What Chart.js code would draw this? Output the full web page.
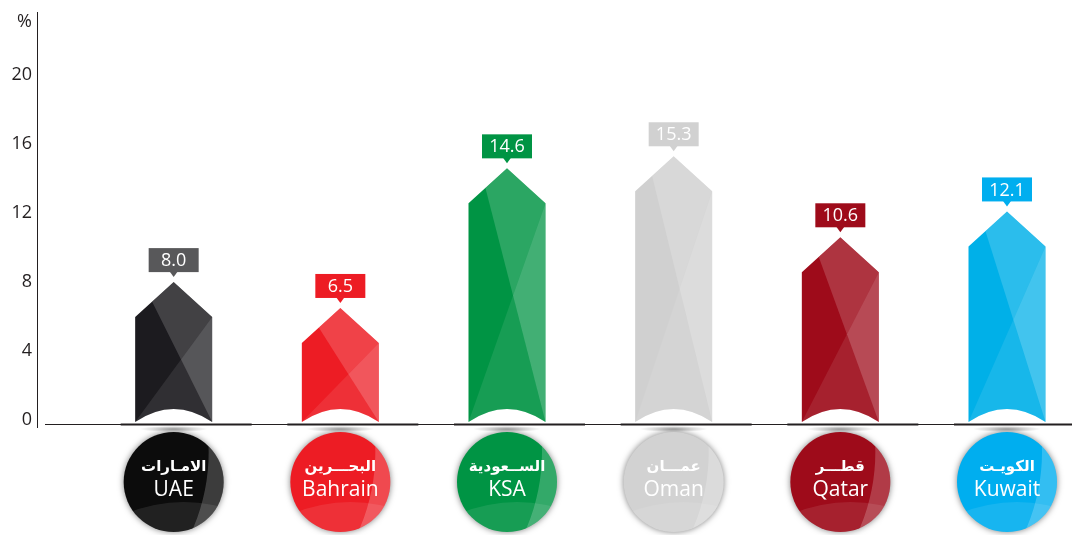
<!DOCTYPE html>
<html>
<head>
<meta charset="utf-8">
<script src="https://cdn.jsdelivr.net/npm/chart.js@4.4.1/dist/chart.umd.min.js"></script>
<style>
  html, body { margin: 0; padding: 0; background: #fff; }
  #chart { display: block; }
</style>
</head>
<body>
<canvas id="chart" width="1072" height="535"></canvas>
<script>
const countries = ["UAE", "Bahrain", "KSA", "Oman", "Qatar", "Kuwait"];
const countriesAr = ["الامـارات", "البحـــرين", "الســعودية", "عمـــان", "قطـــر", "الكويـت"];
const values = [8.0, 6.5, 14.6, 15.3, 10.6, 12.1];
const yTicks = [0, 4, 8, 12, 16, 20];
const yUnit = "%";

// styles
const barColors = ["#1c1b1f", "#ed1c24", "#009444", "#d0d0d0", "#9e0b1a", "#00b0e8"];
const boxColors = ["#58585a", "#ed1c24", "#009444", "#d1d1d1", "#9e0b1a", "#00aeef"];
const badgeColors = ["#0c0c0c", "#ed1c24", "#009444", "#d2d2d2", "#9e0b1a", "#00aeef"];

function cross(p1, p2, p3, p4) {
  const d = (p1.x - p2.x) * (p3.y - p4.y) - (p1.y - p2.y) * (p3.x - p4.x);
  const a = p1.x * p2.y - p1.y * p2.x;
  const b = p3.x * p4.y - p3.y * p4.x;
  return {
    x: (a * (p3.x - p4.x) - (p1.x - p2.x) * b) / d,
    y: (a * (p3.y - p4.y) - (p1.y - p2.y) * b) / d
  };
}

function poly(ctx, pts, fill) {
  ctx.beginPath();
  ctx.moveTo(pts[0].x, pts[0].y);
  pts.slice(1).forEach(p => ctx.lineTo(p.x, p.y));
  ctx.closePath();
  ctx.fillStyle = fill;
  ctx.fill();
}

function drawPencil(ctx, bar, i) {
  const cx = bar.x, w = bar.width;
  const L = cx - w / 2, R = cx + w / 2;
  const T = bar.y, S = T + 35, B = bar.base + 2;

  const tip = { x: cx, y: T };
  const sl = { x: L, y: S }, sr = { x: R, y: S };
  const bl = { x: L, y: B }, br = { x: R, y: B };
  const A = { x: L + 0.22 * w, y: S - 0.44 * 35 };
  const X = cross(A, br, sr, bl);

  ctx.save();
  ctx.beginPath();
  ctx.moveTo(sl.x, sl.y);
  ctx.lineTo(tip.x, tip.y);
  ctx.lineTo(sr.x, sr.y);
  ctx.lineTo(br.x, br.y);
  ctx.quadraticCurveTo(cx, B - 26, bl.x, bl.y);
  ctx.closePath();
  ctx.fillStyle = barColors[i];
  ctx.fill();
  ctx.clip();
  poly(ctx, [A, tip, sr, X], "rgba(255,255,255,0.17)");
  poly(ctx, [sr, br, X], "rgba(255,255,255,0.26)");
  poly(ctx, [X, br, bl], "rgba(255,255,255,0.09)");
  ctx.restore();

  // value box
  ctx.save();
  ctx.fillStyle = boxColors[i];
  ctx.fillRect(cx - 25, T - 34, 50, 24);
  ctx.beginPath();
  ctx.moveTo(cx - 4, T - 10.5);
  ctx.lineTo(cx + 4, T - 10.5);
  ctx.lineTo(cx, T - 5);
  ctx.closePath();
  ctx.fill();
  ctx.fillStyle = "#ffffff";
  ctx.font = "18px 'Open Sans'";
  ctx.textAlign = "center";
  ctx.textBaseline = "middle";
  ctx.fillText(values[i].toFixed(1), cx, T - 21);
  ctx.restore();
}

function drawBadge(ctx, cx, cy, r, i) {
  ctx.save();
  ctx.shadowColor = "rgba(0,0,0,0.5)";
  ctx.shadowBlur = 6;
  ctx.beginPath();
  ctx.arc(cx, cy, r, 0, Math.PI * 2);
  ctx.fillStyle = badgeColors[i];
  ctx.fill();
  ctx.restore();

  ctx.save();
  ctx.beginPath();
  ctx.arc(cx, cy, r, 0, Math.PI * 2);
  ctx.clip();
  ctx.beginPath();
  ctx.arc(cx + 10, cy + 170, 150, 0, Math.PI * 2);
  ctx.fillStyle = "rgba(255,255,255,0.09)";
  ctx.fill();
  ctx.beginPath();
  ctx.rect(cx - r - 5, cy - r - 5, 2 * r + 10, 2 * r + 10);
  ctx.arc(cx - 160, cy - 30, 195, 0, Math.PI * 2);
  ctx.fillStyle = "rgba(255,255,255,0.2)";
  ctx.fill("evenodd");
  ctx.restore();

  ctx.save();
  ctx.fillStyle = "#ffffff";
  ctx.textAlign = "center";
  ctx.textBaseline = "middle";
  ctx.font = "bold 15px 'DejaVu Sans'";
  ctx.fillText(countriesAr[i], cx, cy - 15);
  ctx.font = "21px 'Open Sans'";
  ctx.fillText(countries[i], cx, cy + 8);
  ctx.restore();
}

const pencilPlugin = {
  id: "pencils",
  afterDatasetsDraw(chart) {
    const ctx = chart.ctx;
    const area = chart.chartArea;
    const meta = chart.getDatasetMeta(0);

    // y axis line
    ctx.save();
    ctx.strokeStyle = "#231f20";
    ctx.lineWidth = 1;
    ctx.beginPath();
    ctx.moveTo(area.left + 0.5, 12);
    ctx.lineTo(area.left + 0.5, area.bottom + 8);
    ctx.stroke();

    // base line
    const by = area.bottom + 4.5;
    ctx.beginPath();
    ctx.moveTo(45, by);
    ctx.lineTo(1070, by);
    ctx.stroke();
    ctx.lineWidth = 2.2;
    meta.data.forEach(bar => {
      ctx.beginPath();
      ctx.moveTo(bar.x - 53, by);
      ctx.lineTo(bar.x + 78, by);
      ctx.stroke();
    });
    ctx.restore();

    meta.data.forEach((bar, i) => {
      // soft shadow under the bar
      ctx.save();
      ctx.translate(bar.x, area.bottom + 9);
      ctx.scale(1, 0.09);
      const g = ctx.createRadialGradient(0, 0, 0, 0, 0, 34);
      g.addColorStop(0, "rgba(0,0,0,0.35)");
      g.addColorStop(1, "rgba(0,0,0,0)");
      ctx.fillStyle = g;
      ctx.beginPath();
      ctx.arc(0, 0, 34, 0, Math.PI * 2);
      ctx.fill();
      ctx.restore();

      drawPencil(ctx, bar, i);
      drawBadge(ctx, bar.x, 482, 50, i);
    });
  }
};

new Chart(document.getElementById("chart"), {
  type: "bar",
  data: {
    datasets: [{
      data: values.map((v, i) => ({ x: i, y: v })),
      backgroundColor: "rgba(0,0,0,0)",
      borderWidth: 0,
      barThickness: 77
    }]
  },
  options: {
    responsive: false,
    animation: false,
    devicePixelRatio: 1,
    layout: { padding: { top: 12, bottom: 115, left: 0, right: 0 } },
    plugins: { legend: { display: false }, tooltip: { enabled: false } },
    scales: {
      x: {
        type: "linear",
        min: -0.82,
        max: 5.39,
        offset: false,
        grid: { offset: false },
        display: false
      },
      y: {
        min: 0,
        max: 23.45,
        afterBuildTicks: s => { s.ticks = yTicks.concat([23.1]).map(v => ({ value: v })); },
        afterFit: s => { s.width = 37; },
        grid: { display: false, drawTicks: false },
        border: { display: false },
        ticks: {
          padding: 5,
          color: "#231f20",
          autoSkip: false,
          font: { family: "'Open Sans'", size: 18 },
          callback: v => (v > 20 ? yUnit : v)
        }
      }
    }
  },
  plugins: [pencilPlugin]
});
</script>
</body>
</html>
